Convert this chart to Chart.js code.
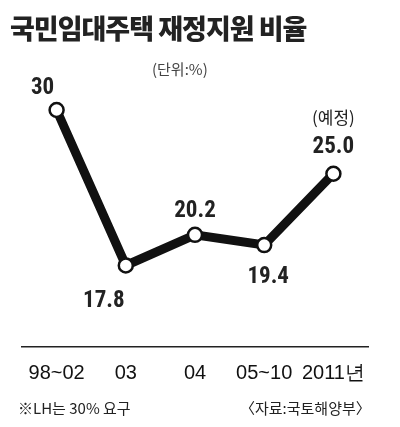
<!DOCTYPE html>
<html><head><meta charset="utf-8">
<script src="https://cdn.jsdelivr.net/npm/chart.js@4"></script>
<style>
body{margin:0;background:#fff;font-family:"Noto Sans CJK KR",sans-serif}
#wrap{position:relative;width:400px;height:427px}
canvas{position:absolute;left:0;top:0}
.t{position:absolute;white-space:nowrap;color:#222}
</style></head><body>
<div id="wrap">
<canvas id="c" width="400" height="427"></canvas>
<div class="t" style="left:10px;top:8px;font-size:27px;font-weight:900;letter-spacing:-1px">국민임대주택 재정지원 비율</div>
<div class="t" style="left:152px;top:58px;font-size:15px;color:#444">(단위:%)</div>
<div class="t" style="left:18px;top:397px;font-size:15px">※LH는 30% 요구</div>
<div class="t" style="left:240px;top:397px;font-size:15px">〈자료:국토해양부〉</div>
</div>
<script>
const categories = ["98~02", "03", "04", "05~10", "2011년"];
const values = [30, 17.8, 20.2, 19.4, 25.0];
const valueLabels = ["30", "17.8", "20.2", "19.4", "25.0"];
const labelPos = [[-14, -22], [-22, 36], [0, -24], [4, 32], [0, -26]];

const labelPlugin = {
  id: "labels",
  afterDatasetsDraw(chart) {
    const ctx = chart.ctx;
    const pts = chart.getDatasetMeta(0).data;
    ctx.save();
    ctx.fillStyle = "#222";
    ctx.textAlign = "center";
    ctx.textBaseline = "middle";
    ctx.font = "bold 23px 'Liberation Sans Narrow', 'Roboto Condensed', sans-serif";
    pts.forEach((p, i) => {
      ctx.fillText(valueLabels[i], p.x + labelPos[i][0], p.y + labelPos[i][1]);
    });
    const last = pts[pts.length - 1];
    ctx.font = "17px 'Noto Sans CJK KR', sans-serif";
    ctx.fillText("(예정)", last.x, last.y - 56);
    ctx.restore();
  }
};

new Chart(document.getElementById("c"), {
  type: "line",
  data: {
    labels: categories,
    datasets: [{
      data: values,
      borderColor: "#111",
      borderWidth: 9,
      pointRadius: 7,
      pointBorderWidth: 2.5,
      pointBackgroundColor: "#fff",
      pointBorderColor: "#111",
      tension: 0
    }]
  },
  options: {
    responsive: false,
    animation: false,
    layout: { padding: { left: 22, right: 32, top: 90, bottom: 36 } },
    plugins: { legend: { display: false }, tooltip: { enabled: false } },
    scales: {
      y: { display: false, min: 11.4, max: 31.57 },
      x: {
        offset: true,
        grid: { display: false },
        border: { color: "#222", width: 1.5 },
        ticks: { color: "#111", maxRotation: 0, minRotation: 0, autoSkip: false,
          font: { size: 20, family: "'Liberation Sans Narrow', sans-serif" }, padding: 6 }
      }
    }
  },
  plugins: [labelPlugin]
});
</script>
</body></html>
